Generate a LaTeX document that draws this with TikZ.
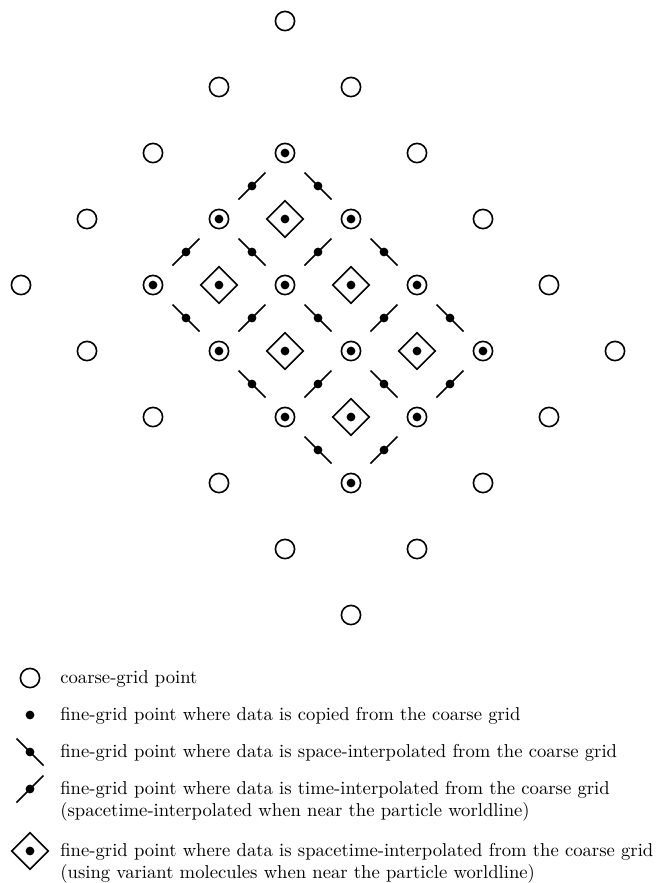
\documentclass[tikz,border=0pt]{standalone}
\usetikzlibrary{shapes.geometric}
\begin{document}
\begin{tikzpicture}[x=0.536pt, y=-0.536pt,
  coarse/.style={circle, draw, line width=0.85pt, minimum size=10.3pt, inner sep=0pt},
  dotpt/.style={circle, fill, minimum size=4.7pt, inner sep=0pt},
  cell/.style={diamond, draw, line width=0.85pt, minimum width=19.8pt, minimum height=19.8pt, inner sep=0pt},
  markline/.style={line width=0.85pt},
  legtext/.style={anchor=base west, inner sep=0pt}]
\useasboundingbox (0,0) rectangle (657,883);
% coarse grid
\foreach \u in {2,...,7}{
  \foreach \v in {0,...,4}{
    \node[coarse] (c\u\v) at ({21+66*(\u+\v-2)},{21+66*(\u-\v+2)}) {};
  }
}
% copied fine-grid points
\foreach \u in {3,...,6}{
  \foreach \v in {1,2,3}{
    \node[dotpt] (f\u\v) at (c\u\v) {};
  }
}
% spacetime-interpolated (cell centres)
\foreach \u in {3,4,5}{
  \foreach \v in {-1,0}{
    \node[cell] (d\u\v) at ({21+66*(\u+\v+1)},{21+66*(\u-\v)}) {};
    \node[dotpt] at (d\u\v) {};
  }
}
% space-interpolated
\foreach \u in {3,4,5}{
  \foreach \v in {-1,0,1}{
    \coordinate (s\u\v) at ({21+66*(\u+\v+0.5)},{21+66*(\u-\v+0.5)});
    \draw[markline] (s\u\v) ++(-13.5,-13.5) -- ++(27,27);
    \node[dotpt] at (s\u\v) {};
  }
}
% time-interpolated
\foreach \u in {3,...,6}{
  \foreach \v in {-1,0}{
    \coordinate (t\u\v) at ({21+66*(\u+\v+0.5)},{21+66*(\u-\v-0.5)});
    \draw[markline] (t\u\v) ++(-13.5,13.5) -- ++(27,-27);
    \node[dotpt] at (t\u\v) {};
  }
}
% legend
\node[coarse] (l1) at (30,678) {};
\node[legtext] (t1) at (60,683) {coarse-grid point};
\node[dotpt] (l2) at (30,715) {};
\node[legtext] (t2) at (60,720) {fine-grid point where data is copied from the coarse grid};
\coordinate (l3) at (30,752);
\draw[markline] (l3) ++(-13.5,-13.5) -- ++(27,27);
\node[dotpt] at (l3) {};
\node[legtext] (t3) at (60,757) {fine-grid point where data is space-interpolated from the coarse grid};
\coordinate (l4) at (30,789);
\draw[markline] (l4) ++(-13.5,13.5) -- ++(27,-27);
\node[dotpt] at (l4) {};
\node[legtext] (t4a) at (60,794) {fine-grid point where data is time-interpolated from the coarse grid};
\node[legtext] (t4b) at (60,816) {(spacetime-interpolated when near the particle worldline)};
\node[cell] (l5) at (30,851) {};
\node[dotpt] at (l5) {};
\node[legtext] (t5a) at (60,856) {fine-grid point where data is spacetime-interpolated from the coarse grid};
\node[legtext] (t5b) at (60,878) {(using variant molecules when near the particle worldline)};
\end{tikzpicture}
\end{document}
